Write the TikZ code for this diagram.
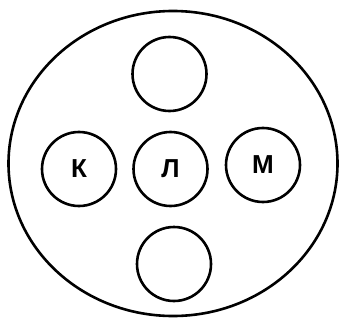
\documentclass[tikz,border=0pt]{standalone}
\usepackage{fontspec}
\setmainfont{Liberation Sans}
\usetikzlibrary{shapes.geometric}
\begin{document}
\begin{tikzpicture}[x=1pt,y=-1pt,
  ring/.style={draw,line width=2.6pt,circle,minimum size=74pt,inner sep=0pt,font=\bfseries\fontsize{26}{26}\selectfont}]
\useasboundingbox (0,0) rectangle (340,321);
\node[draw,line width=2.6pt,ellipse,minimum width=329pt,minimum height=305pt,inner sep=0pt] (outer) at (173,163.5) {};
\node[ring] (top) at (169.5,74) {};
\node[ring] (k) at (79,169) {К};
\node[ring] (l) at (170.5,169) {Л};
\node[ring] (m) at (263,165) {М};
\node[ring] (bot) at (174,264) {};
\end{tikzpicture}
\end{document}
